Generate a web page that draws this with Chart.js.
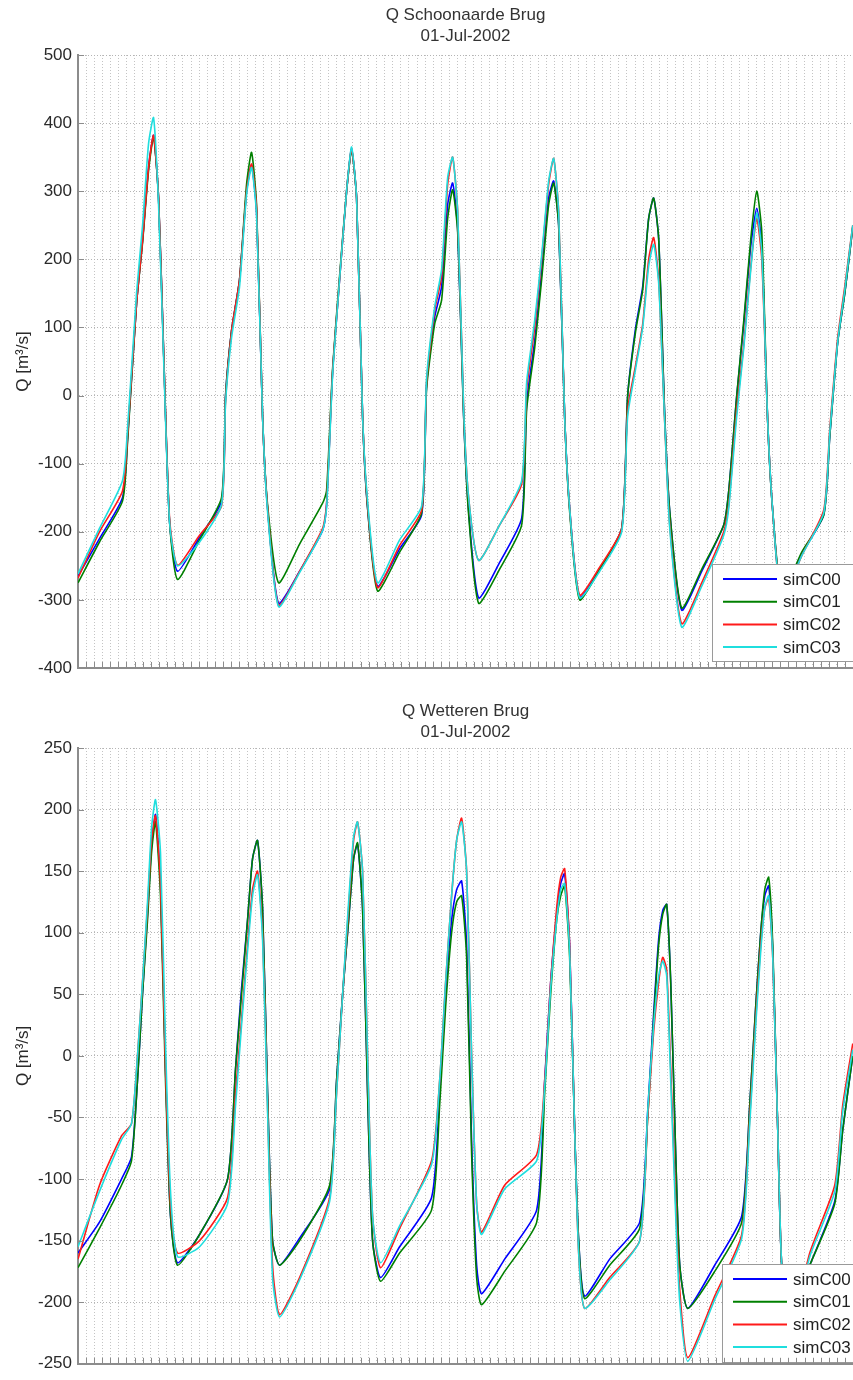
<!DOCTYPE html>
<html>
<head>
<meta charset="utf-8">
<script src="https://cdn.jsdelivr.net/npm/chart.js@4/dist/chart.umd.min.js"></script>
<style>
  body { margin: 0; background: #fff; width: 853px; height: 1380px; overflow: hidden; }
  canvas { display: block; }
</style>
</head>
<body>
<canvas id="topChart" width="853" height="690"></canvas>
<canvas id="botChart" width="853" height="690"></canvas>
<script>
// ─── Data ─────────────────────────────────────────────────

const seriesNames = ['simC00', 'simC01', 'simC02', 'simC03'];

// Q Schoonaarde Brug (hours after 01-Jul-2002 00:00, m3/s)
const topHours = [0, 2.66, 5.51, 6.13, 7.25, 8.0, 8.74, 9.36, 9.98, 10.59, 11.34, 12.33, 15.06, 17.78, 18.28, 19.02, 20.01, 20.88, 21.5, 22.12, 22.86, 23.48, 24.85, 27.45, 30.3, 30.79, 31.54, 32.4, 33.27, 33.89, 34.51, 35.25, 35.87, 37.11, 39.84, 42.57, 43.18, 44.18, 45.04, 45.79, 46.41, 47.03, 47.77, 48.39, 49.63, 52.23, 54.96, 55.58, 56.57, 57.43, 58.3, 58.92, 59.54, 60.28, 60.9, 62.14, 64.62, 67.35, 68.09, 69.08, 69.95, 70.69, 71.31, 71.93, 72.68, 73.3, 74.78, 77.26, 79.99, 80.61, 81.6, 82.47, 83.34, 84.08, 84.7, 85.44, 86.06, 87.18, 89.65, 92.38, 93.12, 94.11, 94.98, 95.97];
const topC00 = [-265, -210, -150, -65, 135, 228, 335, 382, 290, 70, -185, -258, -208, -155, 0, 95, 170, 300, 338, 270, -30, -165, -305, -258, -198, -160, 35, 170, 300, 362, 290, -30, -165, -280, -225, -175, 15, 115, 160, 280, 312, 245, -30, -170, -297, -245, -180, -10, 80, 180, 290, 315, 250, -30, -165, -296, -255, -195, 0, 100, 160, 260, 290, 230, -30, -170, -315, -258, -190, -140, 0, 105, 220, 275, 220, -40, -170, -295, -232, -175, -60, 79, 150, 247];
const topC01 = [-275, -215, -155, -70, 135, 225, 330, 380, 290, 70, -185, -270, -212, -150, 0, 95, 170, 310, 357, 280, -30, -160, -275, -218, -158, -140, 40, 175, 300, 360, 290, -30, -165, -287, -230, -172, 10, 105, 140, 260, 302, 240, -30, -175, -305, -255, -190, -20, 70, 170, 280, 312, 250, -30, -170, -300, -255, -195, 0, 95, 155, 260, 290, 230, -30, -170, -312, -255, -190, -140, 0, 110, 230, 300, 240, -40, -170, -290, -230, -175, -60, 79, 150, 247];
const topC02 = [-268, -200, -140, -60, 135, 228, 335, 382, 290, 70, -180, -249, -205, -162, -5, 95, 170, 300, 340, 275, -30, -165, -308, -258, -195, -160, 35, 170, 300, 362, 290, -30, -160, -282, -220, -168, 20, 125, 175, 310, 350, 270, -20, -150, -242, -190, -130, 10, 100, 200, 310, 348, 270, -30, -165, -293, -252, -195, -20, 45, 105, 200, 232, 170, -40, -190, -335, -275, -200, -160, -20, 75, 190, 260, 200, -40, -170, -300, -235, -168, -50, 85, 160, 250];
const topC03 = [-262, -195, -125, -50, 150, 250, 370, 408, 280, 60, -185, -250, -215, -160, -10, 85, 160, 295, 335, 265, -30, -170, -310, -260, -198, -165, 30, 170, 300, 365, 290, -30, -155, -275, -212, -162, 25, 130, 185, 320, 350, 270, -20, -150, -242, -190, -125, 20, 110, 205, 315, 348, 270, -30, -165, -297, -258, -200, -30, 40, 100, 190, 222, 165, -40, -195, -340, -280, -205, -165, -30, 70, 185, 268, 210, -40, -170, -300, -235, -172, -55, 80, 155, 250];

// Q Wetteren Brug
const botHours = [0, 2.66, 5.39, 6.63, 7.37, 7.99, 8.61, 9.11, 9.6, 10.22, 10.84, 11.46, 12.33, 15.06, 18.53, 19.52, 20.26, 21.0, 21.62, 22.24, 22.86, 23.48, 24.1, 24.97, 27.45, 31.17, 32.03, 32.78, 33.52, 34.14, 34.63, 35.25, 35.87, 36.49, 37.48, 39.84, 43.8, 44.8, 45.54, 46.28, 46.9, 47.52, 48.14, 48.76, 49.38, 50.0, 52.85, 56.82, 57.81, 58.55, 59.29, 59.79, 60.28, 60.9, 61.52, 62.02, 62.76, 65.86, 69.58, 70.57, 71.31, 71.93, 72.43, 72.92, 73.42, 74.04, 74.54, 75.53, 78.87, 82.22, 83.21, 83.95, 84.57, 85.07, 85.56, 86.06, 86.68, 87.17, 88.17, 90.64, 93.74, 94.73, 95.97];
const botC00 = [-160, -135, -100, -82, -20, 50, 115, 170, 196, 140, -10, -130, -168, -145, -100, -10, 55, 110, 160, 175, 120, -30, -150, -170, -148, -108, -20, 50, 110, 160, 172, 120, -30, -150, -180, -155, -115, -30, 50, 110, 135, 142, 90, -70, -170, -193, -165, -125, -20, 60, 115, 140, 148, 90, -60, -150, -195, -165, -135, -45, 35, 95, 118, 123, 60, -80, -170, -205, -170, -130, -40, 40, 100, 130, 138, 85, -60, -170, -210, -170, -118, -60, 0];
const botC01 = [-172, -140, -105, -85, -20, 50, 110, 165, 190, 130, -20, -130, -170, -145, -100, -10, 50, 110, 160, 175, 120, -30, -150, -170, -150, -105, -20, 50, 110, 160, 173, 120, -30, -150, -183, -160, -125, -40, 40, 100, 125, 130, 80, -80, -180, -202, -175, -135, -30, 50, 110, 130, 138, 80, -60, -150, -197, -170, -140, -50, 30, 90, 115, 123, 60, -80, -170, -205, -175, -135, -40, 40, 100, 135, 145, 90, -60, -170, -210, -170, -120, -60, 0];
const botC02 = [-165, -105, -65, -55, 0, 60, 120, 175, 195, 140, -10, -120, -160, -150, -115, -30, 30, 90, 135, 150, 100, -40, -170, -210, -180, -115, -30, 50, 120, 175, 190, 150, 0, -130, -172, -140, -85, -20, 60, 130, 175, 193, 150, 0, -120, -143, -105, -80, -20, 60, 120, 145, 152, 90, -60, -160, -205, -180, -150, -50, 20, 60, 80, 70, -10, -120, -190, -245, -195, -145, -50, 30, 90, 120, 128, 80, -60, -170, -225, -160, -105, -40, 10];
const botC03 = [-155, -110, -68, -55, 0, 60, 125, 185, 208, 165, 10, -110, -163, -155, -120, -40, 25, 85, 130, 147, 95, -45, -180, -212, -182, -118, -30, 50, 125, 178, 190, 150, 0, -130, -168, -138, -88, -20, 60, 130, 175, 190, 150, 0, -120, -145, -108, -85, -25, 55, 110, 135, 140, 85, -60, -160, -205, -182, -150, -45, 25, 65, 77, 65, -20, -130, -200, -248, -198, -148, -55, 25, 85, 120, 130, 80, -60, -170, -228, -163, -110, -45, 5];

// ─── Style ────────────────────────────────────────────────

const FONT = '"Liberation Sans", Arial, Helvetica, sans-serif';
const colors = ['#0000ff', '#008000', '#ff1a1a', '#1fdede'];
const axisGrey = '#8c8c8c';

// ─── Plugins ──────────────────────────────────────────────

const matlabLook = {
  id: 'matlabLook',
  afterDatasetsDraw(chart, args, opts) {
    const { ctx } = chart;
    const lg = opts.legend;
    ctx.save();
    ctx.fillStyle = '#fff';
    ctx.fillRect(lg.left, lg.top, 200, lg.height);
    ctx.strokeStyle = '#9a9a9a';
    ctx.lineWidth = 1;
    ctx.strokeRect(lg.left + 0.5, lg.top + 0.5, 200, lg.height);
    ctx.font = '17px ' + FONT;
    ctx.textBaseline = 'middle';
    chart.data.datasets.forEach((ds, i) => {
      const yy = lg.top + 15 + i * 22.7;
      ctx.strokeStyle = ds.borderColor;
      ctx.lineWidth = 2;
      ctx.beginPath();
      ctx.moveTo(lg.left + 11, yy);
      ctx.lineTo(lg.left + 65, yy);
      ctx.stroke();
      ctx.fillStyle = '#222';
      ctx.fillText(ds.label, lg.left + 71, yy + 1);
    });
    ctx.restore();
  },
  afterDraw(chart, args, opts) {
    const { ctx, chartArea: a, scales: { x, y } } = chart;
    ctx.save();
    // inward tick marks, MATLAB style
    ctx.strokeStyle = axisGrey;
    ctx.lineWidth = 1;
    ctx.beginPath();
    x.ticks.forEach(t => {
      const px = Math.round(x.getPixelForValue(t.value)) + 0.5;
      ctx.moveTo(px, a.bottom);
      ctx.lineTo(px, a.bottom - 6);
    });
    y.ticks.forEach(t => {
      const py = Math.round(y.getPixelForValue(t.value)) + 0.5;
      ctx.moveTo(a.left, py);
      ctx.lineTo(a.left + 6, py);
    });
    ctx.stroke();
    // two-line title
    ctx.fillStyle = '#333';
    ctx.font = '17px ' + FONT;
    ctx.textAlign = 'center';
    ctx.textBaseline = 'middle';
    const cx = (a.left + a.right) / 2;
    opts.title.forEach((line, i) => ctx.fillText(line, cx, opts.titleY + i * 21));
    ctx.restore();
  }
};

// ─── Charts ───────────────────────────────────────────────

function makeChart(id, hours, values, cfg) {
  const datasets = values.map((vals, i) => ({
    label: seriesNames[i],
    data: hours.map((h, j) => ({ x: h, y: vals[j] })),
    borderColor: colors[i],
    borderWidth: 1.6,
    pointRadius: 0,
    tension: 0.2,
    borderJoinStyle: 'round',
    order: 3 - i
  }));

  return new Chart(document.getElementById(id), {
    type: 'line',
    data: { datasets },
    plugins: [matlabLook],
    options: {
      responsive: false,
      animation: false,
      devicePixelRatio: 1,
      layout: { padding: { top: cfg.padTop, bottom: cfg.padBottom, left: 0, right: 0 } },
      plugins: {
        legend: { display: false },
        tooltip: { enabled: false },
        matlabLook: { title: cfg.title, titleY: cfg.titleY, legend: cfg.legend }
      },
      scales: {
        x: {
          type: 'linear',
          min: 0,
          max: 96,
          ticks: { display: false, stepSize: 1, maxTicksLimit: 200, autoSkip: false },
          grid: { color: '#c4c4c4', lineWidth: 1, drawTicks: false },
          border: { display: true, color: axisGrey, width: 2, dash: [1, 2] },
          afterFit: s => { s.height = 0; }
        },
        y: {
          min: cfg.yMin,
          max: cfg.yMax,
          ticks: {
            stepSize: cfg.yStep,
            padding: 6,
            color: '#2a2a2a',
            font: { family: FONT, size: 17 }
          },
          grid: { color: '#b4b4b4', lineWidth: 1, drawTicks: false },
          border: { display: true, color: axisGrey, width: 2, dash: [1, 2] },
          title: {
            display: true,
            text: 'Q [m³/s]',
            color: '#2a2a2a',
            font: { family: FONT, size: 17 },
            padding: { top: 13, bottom: 0 }
          },
          afterFit: s => { s.width = 78; }
        }
      }
    }
  });
}

makeChart('topChart', topHours, [topC00, topC01, topC02, topC03], {
  title: ['Q Schoonaarde Brug', '01-Jul-2002'],
  titleY: 15,
  padTop: 55,
  padBottom: 22,
  yMin: -400, yMax: 500, yStep: 100,
  legend: { left: 712, top: 564, height: 97 }
});

makeChart('botChart', botHours, [botC00, botC01, botC02, botC03], {
  title: ['Q Wetteren Brug', '01-Jul-2002'],
  titleY: 21,
  padTop: 58,
  padBottom: 12,
  yMin: -250, yMax: 250, yStep: 50,
  legend: { left: 722, top: 574, height: 98 }
});
</script>
</body>
</html>
